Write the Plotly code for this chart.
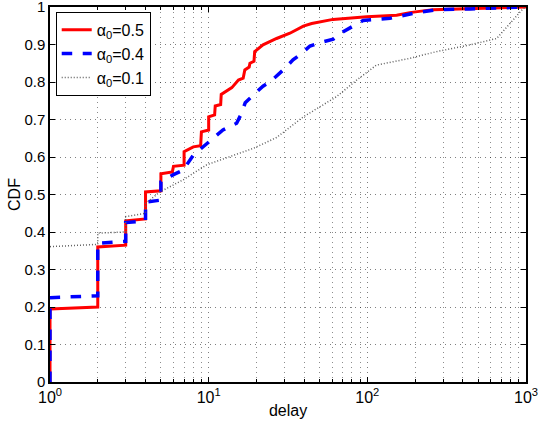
import plotly.graph_objects as go

# alpha_0 = 0.5 (red)
red_x = [1, 1, 2, 2, 3, 3, 4, 4, 5, 5, 5.9, 6, 7, 7, 8, 8.9, 9, 10, 10, 10.9, 11, 11.9, 12, 14,
         15.4, 16.5, 16.9, 18, 18.2, 19.3, 19.5, 22, 26.8, 32.5, 39.5, 44.6, 60.8, 99, 153, 185,
         259, 365, 830, 1000]
red_y = [0, 0.195, 0.2, 0.36, 0.365, 0.43, 0.435, 0.507, 0.51, 0.555, 0.56, 0.575, 0.578, 0.614,
         0.627, 0.63, 0.667, 0.672, 0.707, 0.712, 0.736, 0.74, 0.767, 0.785, 0.805, 0.81, 0.832,
         0.84, 0.85, 0.855, 0.881, 0.899, 0.916, 0.93, 0.949, 0.956, 0.967, 0.974, 0.978, 0.985,
         0.993, 0.995, 0.998, 1.0]

# alpha_0 = 0.4 (blue)
blue_x = [1, 1, 2, 2, 3, 3, 4, 4, 5, 5, 6, 6.9, 8, 9, 10.2, 12.3, 15, 16.1, 17, 22, 24.3, 29.5,
          34, 38.5, 43.5, 50.3, 61, 70.5, 94, 139, 195, 273, 443, 794, 1000]
blue_y = [0, 0.225, 0.23, 0.37, 0.375, 0.425, 0.43, 0.48, 0.485, 0.534, 0.553, 0.565, 0.605,
          0.623, 0.641, 0.672, 0.69, 0.716, 0.745, 0.789, 0.80, 0.832, 0.859, 0.876, 0.896, 0.905,
          0.914, 0.934, 0.964, 0.97, 0.983, 0.993, 0.995, 0.998, 1.0]

# alpha_0 = 0.1 (gray dotted)
gray_x = [1, 2, 2, 3, 3, 4, 4, 4.93, 6.9, 9.7, 13.6, 19.1, 26.8, 39.5, 64, 85.6, 114, 185, 273,
          443, 653, 794, 957, 1000]
gray_y = [0.361, 0.367, 0.397, 0.40, 0.441, 0.45, 0.476, 0.507, 0.539, 0.579, 0.601, 0.623,
          0.652, 0.707, 0.761, 0.805, 0.845, 0.863, 0.881, 0.899, 0.916, 0.956, 0.995, 1.0]

x_tickvals = [1, 10, 100, 1000]
x_ticktext = ["10<sup>0</sup>", "10<sup>1</sup>", "10<sup>2</sup>", "10<sup>3</sup>"]
x_minor = [m * d for d in (1, 10, 100) for m in range(2, 10)]
y_tickvals = [0, 0.1, 0.2, 0.3, 0.4, 0.5, 0.6, 0.7, 0.8, 0.9, 1]
y_ticktext = ["0", "0.1", "0.2", "0.3", "0.4", "0.5", "0.6", "0.7", "0.8", "0.9", "1"]

fig = go.Figure()
fig.add_trace(go.Scatter(x=red_x, y=red_y, mode="lines", name="α<sub>0</sub>=0.5",
                         line=dict(color="#ff0000", width=3)))
fig.add_trace(go.Scatter(x=blue_x, y=blue_y, mode="lines", name="α<sub>0</sub>=0.4",
                         line=dict(color="#0000ff", width=3.5, dash="dash")))
fig.add_trace(go.Scatter(x=gray_x, y=gray_y, mode="lines", name="α<sub>0</sub>=0.1",
                         line=dict(color="#606060", width=1.5, dash="1px,2px")))

grid = dict(showgrid=True, gridcolor="rgba(0,0,0,0.5)", griddash="1px,4px", gridwidth=1)

fig.update_layout(
    width=538, height=431,
    margin=dict(l=50, r=12, t=7, b=49),
    paper_bgcolor="white", plot_bgcolor="white",
    font=dict(family="Liberation Sans, Arial, sans-serif", size=15, color="black"),
    legend=dict(x=0.012, y=0.987, xanchor="left", yanchor="top",
                bordercolor="black", borderwidth=1, bgcolor="white",
                font=dict(size=16), tracegroupgap=0),
    xaxis=dict(type="log", range=[0, 3], tickmode="array", tickvals=x_tickvals,
               ticktext=x_ticktext, ticks="inside", ticklen=5, tickcolor="black",
               tickfont=dict(size=16), ticklabeloverflow="allow",
               showline=True, linecolor="black", linewidth=1.5, mirror="allticks",
               zeroline=False, automargin=False,
               title=dict(text="delay", font=dict(size=16), standoff=0),
               minor=dict(tickvals=x_minor, ticks="inside", ticklen=3, tickcolor="black",
                          showgrid=True, gridcolor="rgba(0,0,0,0.45)", griddash="1px,4px"),
               **grid),
    yaxis=dict(range=[0, 1], tickmode="array", tickvals=y_tickvals, ticktext=y_ticktext,
               ticks="inside", ticklen=5, tickcolor="black", tickfont=dict(size=15),
               ticklabeloverflow="allow",
               showline=True, linecolor="black", linewidth=1.5, mirror="allticks",
               zeroline=False, automargin=False,
               title=dict(text="CDF", font=dict(size=16), standoff=0),
               **grid),
)

fig.write_html("out.html", config={"displayModeBar": False},
               post_script="document.body.style.margin='0px';")
